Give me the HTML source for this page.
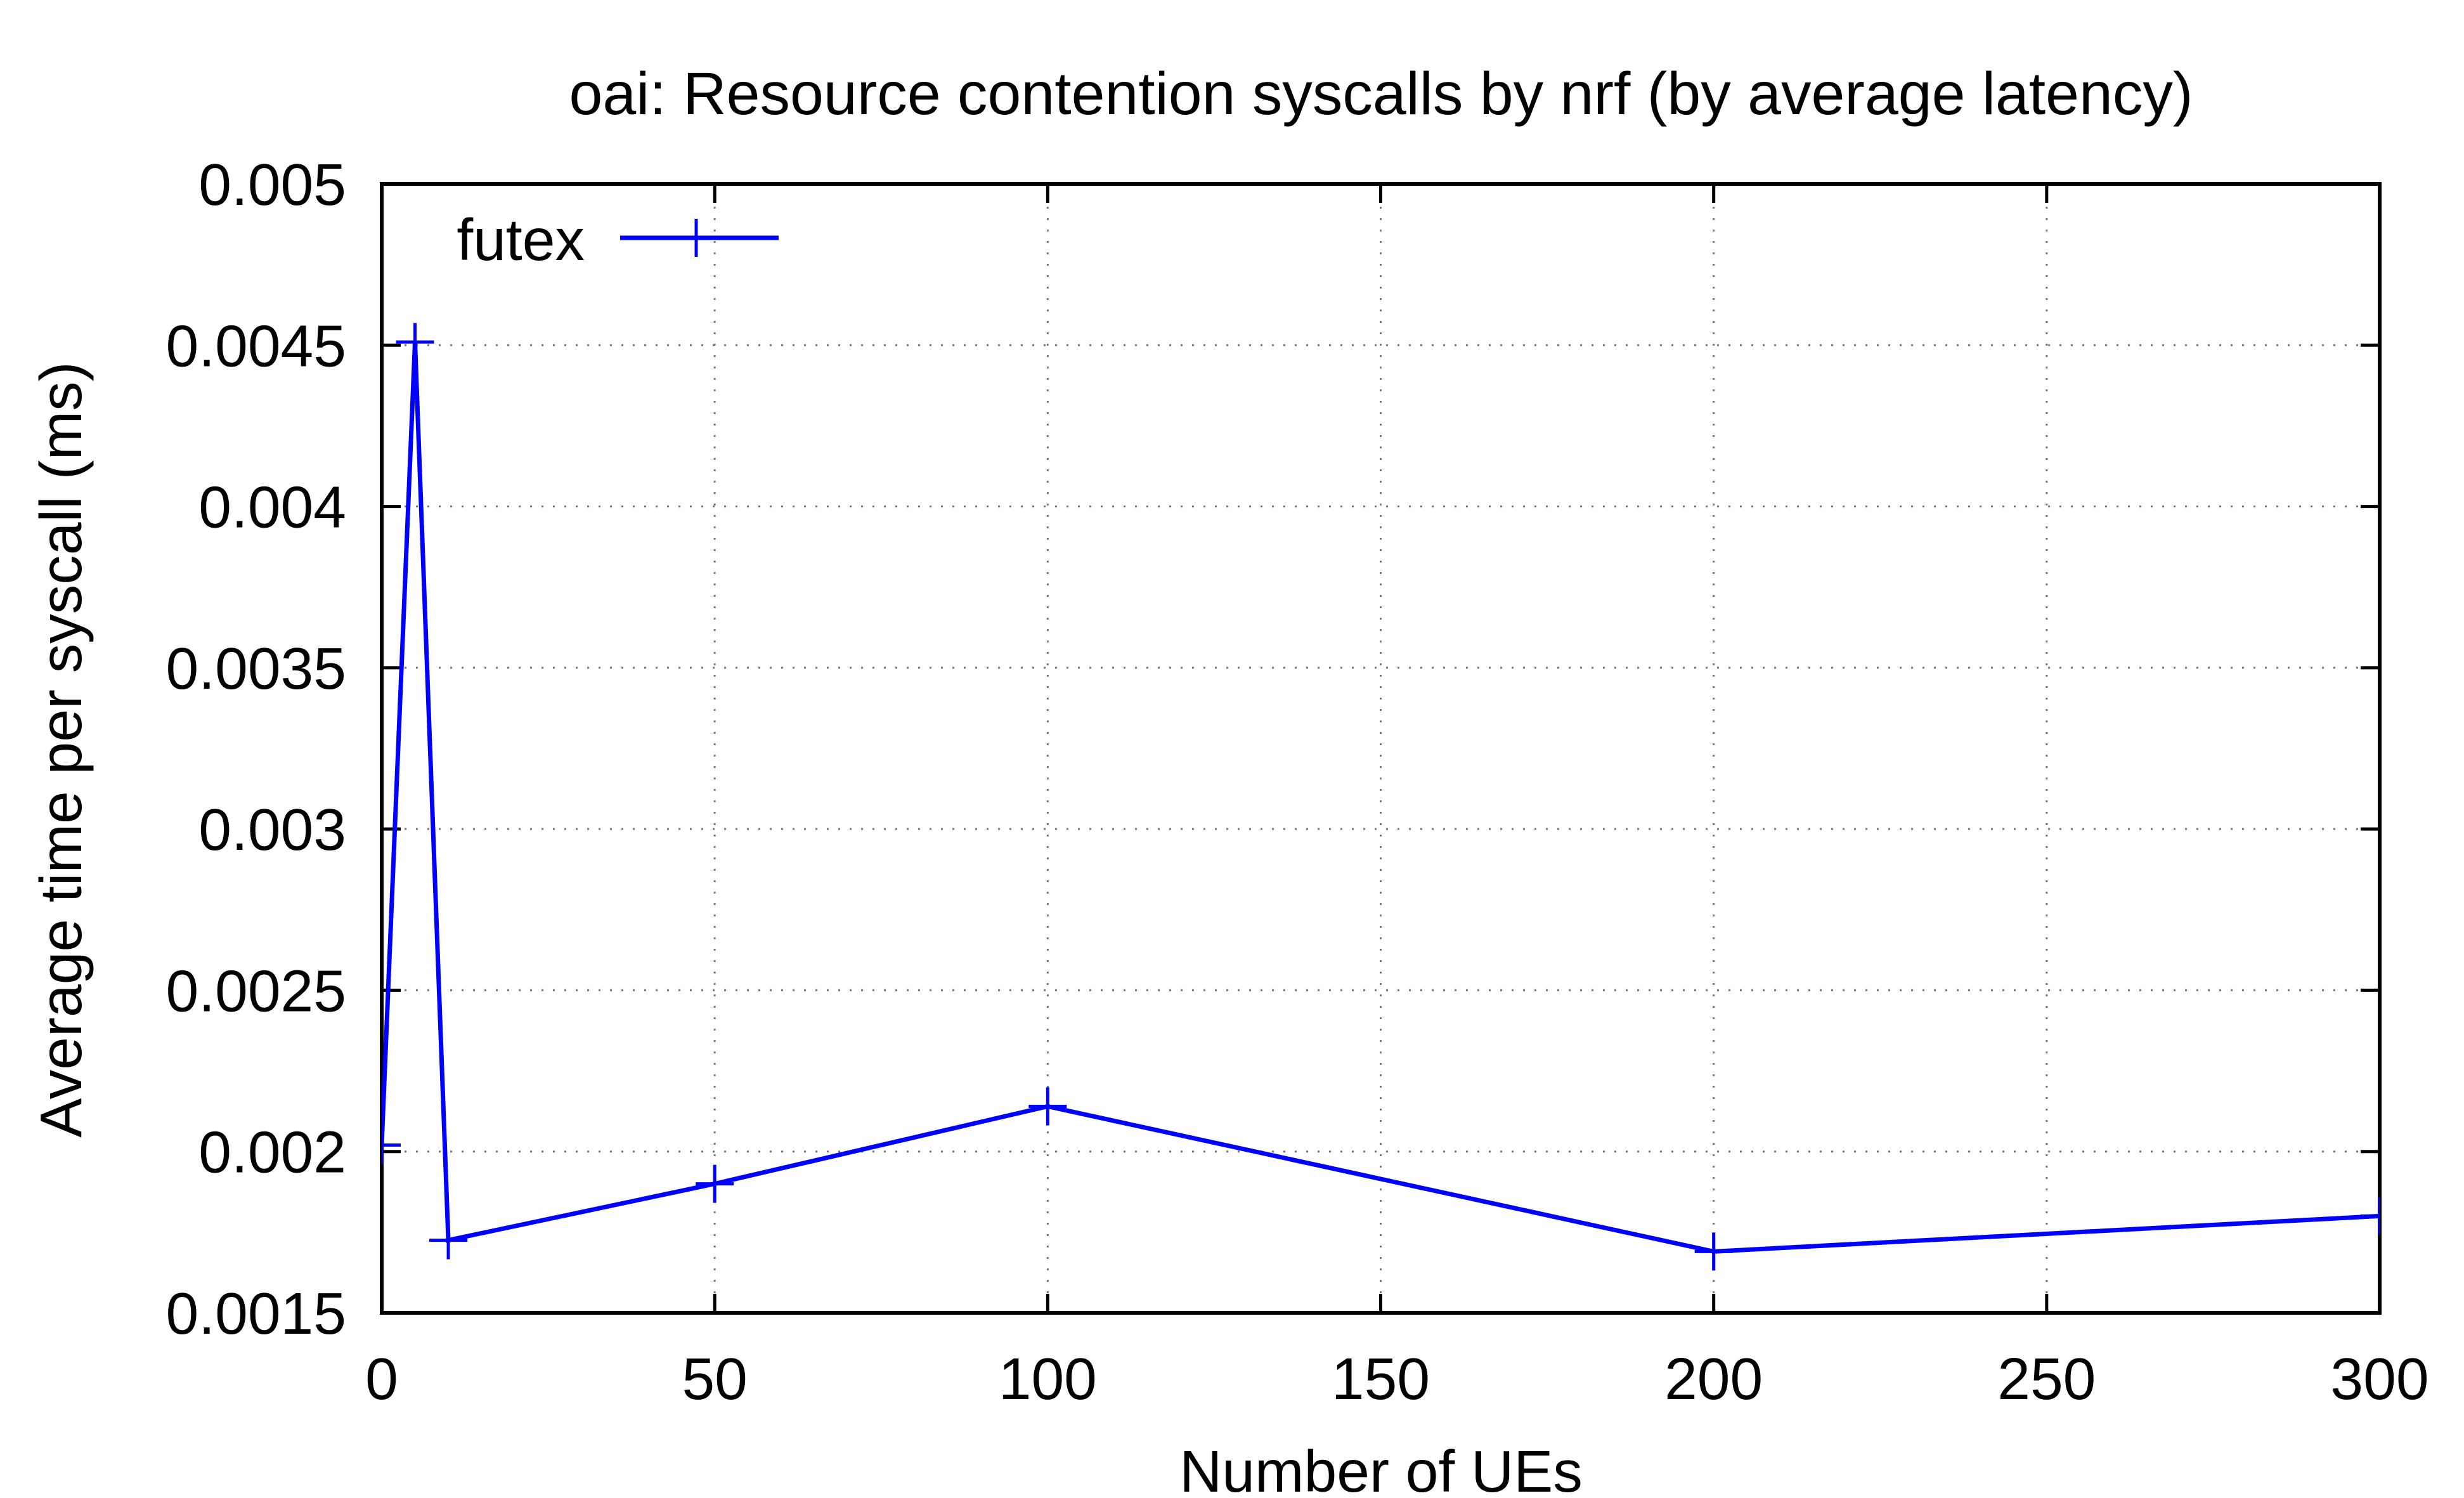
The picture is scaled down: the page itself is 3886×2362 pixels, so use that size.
<!DOCTYPE html>
<html><head><meta charset="utf-8"><style>
html,body{margin:0;padding:0;background:#fff}
svg{display:block}
text{font-family:"Liberation Sans",sans-serif;fill:#000}
</style></head><body>
<svg width="3886" height="2362" viewBox="0 0 3886 2362" xmlns="http://www.w3.org/2000/svg">
<g id="grid"></g>
<g id="axes"></g>
<g id="series"></g>
<text x="2178" y="180" font-size="95" text-anchor="middle">oai: Resource contention syscalls by nrf (by average latency)</text>
<text x="2178" y="2352" font-size="93" text-anchor="middle">Number of UEs</text>
<text transform="translate(128,1182) rotate(-90)" font-size="93" text-anchor="middle">Average time per syscall (ms)</text>
<g>
<text x="922" y="410" font-size="93" text-anchor="end">futex</text>
<line x1="978" y1="375" x2="1228" y2="375" stroke="#0000ff" stroke-width="7"/>
<line x1="1098" y1="345" x2="1098" y2="405" stroke="#0000ff" stroke-width="5"/>
</g>
</svg>
<script>
const xValues = [0, 5, 10, 50, 100, 200, 300];
const futexValues = [0.00202, 0.00451, 0.001725, 0.0019, 0.00214, 0.00169, 0.0018];
const xTicks = [0, 50, 100, 150, 200, 250, 300];
const yTicks = [0.0015, 0.002, 0.0025, 0.003, 0.0035, 0.004, 0.0045, 0.005];
const yTickLabels = ["0.0015","0.002","0.0025","0.003","0.0035","0.004","0.0045","0.005"];

const L=602,R=3753,T=290,B=2070;
const xMin=0,xMax=300,yMin=0.0015,yMax=0.005;
const sx=v=>L+(v-xMin)/(xMax-xMin)*(R-L);
const sy=v=>B-(v-yMin)/(yMax-yMin)*(B-T);
const NS="http://www.w3.org/2000/svg";
function mk(tag,attrs,parent){const e=document.createElementNS(NS,tag);for(const k in attrs)e.setAttribute(k,attrs[k]);parent.appendChild(e);return e;}
const grid=document.getElementById('grid'),axes=document.getElementById('axes'),series=document.getElementById('series');

xTicks.forEach((t,i)=>{
  const x=sx(t);
  if(i>0&&i<xTicks.length-1){
    const g=mk('line',{x1:x,y1:T,x2:x,y2:B,stroke:'#777','stroke-width':3,'stroke-dasharray':'3 15'},grid);
    
    
  }
  mk('line',{x1:x,y1:B,x2:x,y2:B-30,stroke:'#000','stroke-width':5},axes);
  mk('line',{x1:x,y1:T,x2:x,y2:T+30,stroke:'#000','stroke-width':5},axes);
  const tx=mk('text',{x:x,y:2206,'font-size':93,'text-anchor':'middle'},axes);
  tx.textContent=t;
  
  
});
yTicks.forEach((t,i)=>{
  const y=sy(t);
  if(i>0&&i<yTicks.length-1){
    const g=mk('line',{x1:L,y1:y,x2:R,y2:y,stroke:'#777','stroke-width':3,'stroke-dasharray':'3 15'},grid);
    
    
  }
  mk('line',{x1:L,y1:y,x2:L+30,y2:y,stroke:'#000','stroke-width':5},axes);
  mk('line',{x1:R,y1:y,x2:R-30,y2:y,stroke:'#000','stroke-width':5},axes);
  const ty=mk('text',{x:546,y:y+33,'font-size':93,'text-anchor':'end'},axes);
  ty.textContent=yTickLabels[i];
  
  
});
const frame=mk('rect',{x:L,y:T,width:R-L,height:B-T,fill:'none',stroke:'#000','stroke-width':6},axes);



const clip=mk('clipPath',{id:'pc'},document.querySelector('svg'));
mk('rect',{x:L,y:T,width:R-L,height:B-T},clip);
series.setAttribute('clip-path','url(#pc)');
const pts=xValues.map((v,i)=>sx(v)+','+sy(futexValues[i])).join(' ');
const pl=mk('polyline',{points:pts,fill:'none',stroke:'#0000ff','stroke-width':7,'stroke-linejoin':'miter'},series);


xValues.forEach((v,i)=>{
  const x=sx(v),y=sy(futexValues[i]);
  const g=mk('g',{},series);
  
  
  mk('line',{x1:x-30,y1:y,x2:x+30,y2:y,stroke:'#0000ff','stroke-width':5},g);
  mk('line',{x1:x,y1:y-30,x2:x,y2:y+30,stroke:'#0000ff','stroke-width':5},g);
});
</script>
</body></html>
